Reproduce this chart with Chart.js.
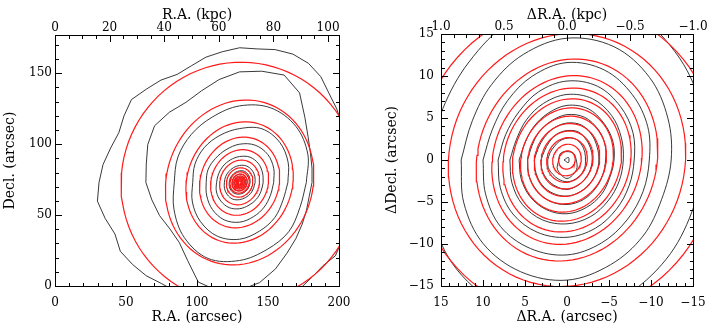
<!DOCTYPE html>
<html>
<head>
<meta charset="utf-8">
<script src="https://cdn.jsdelivr.net/npm/chart.js@4.4.0/dist/chart.umd.min.js"></script>
<style>
  body { margin: 0; background: #fff; width: 708px; height: 329px; overflow: hidden; }
  canvas { position: absolute; top: 0; }
  #left { left: 0; }
  #right { left: 354px; }
</style>
</head>
<body>
<canvas id="left" width="354" height="329"></canvas>
<canvas id="right" width="354" height="329"></canvas>
<script>
// ---- left panel: whole galaxy (arcsec) ----
const leftCenter = [130, 73];
const leftXTicks = [0, 50, 100, 150, 200];
const leftYTicks = [0, 50, 100, 150];
const leftKpcTicks = [0, 20, 40, 60, 80, 100];
const leftYMax = 177;
const leftKpcMax = 104;

// red model ellipses: semi-major axis (arcsec), axis ratio, major axis angle (deg from +x)
const leftModelSma = [85, 59, 43.5, 32.5, 23.5, 16, 10.5, 7.6, 6.0, 4.7, 3.6, 2.7, 1.9, 1.2];
const leftModelQ   = [0.98, 0.87, 0.85, 0.85, 0.85, 0.86, 0.87, 0.88, 0.88, 0.88, 0.9, 0.9, 0.9, 0.9];
const leftModelPA  = [70, 70, 70, 70, 70, 70, 70, 70, 70, 70, 70, 70, 70, 70];

// black measured isophotes: radius (arcsec) at equal angle steps from the centre
const leftIso1 = [88, 86, 84.5, 82, 83, 86, 89, 94, 97, 98, 97, 95, 95, 93, 91.5, 89, 88, 91, 93, 96, 94, 92, 94, 97,
                  99, 101, 98, 95, 97, 95, 93, 90, 89, 88, 88, 88, 88, 88, 88, 87, 86, 84, 83, 85, 83, 84, 86, 87];
const leftIso2 = [51, 52, 54, 58, 65, 76, 82, 80, 78, 74, 70, 68, 70, 72, 70, 67,
                  66, 63, 61, 59, 60, 66, 76, 78, 76, 72, 66, 60, 56, 53, 51, 50];
const leftIso3 = [47, 52, 56, 57, 54, 50, 48, 47, 46, 50, 55, 58, 55, 51, 49, 46];
const leftIso4 = [34, 37, 40, 41, 38, 36, 35, 34, 33, 36, 39, 41, 40, 37, 35, 33];
const leftIso5 = [24, 26, 28, 28.5, 27, 25, 24, 24, 23.5, 25, 27, 28.5, 28, 26, 24.5, 23.5];
const leftIso6 = [16.6, 17.5, 18.8, 19.3, 18.3, 17.2, 16.4, 16, 16.2, 17.6, 18.6, 19.2, 18.5, 17.3, 16.7, 16.3];
const leftIso7 = [10.9, 11.6, 12.3, 12.6, 12, 11.3, 10.8, 10.7, 10.7, 11.5, 12.2, 12.7, 12.1, 11.4, 11, 10.6];
const leftIso8 = [7.4, 7.8, 8.3, 8.6, 8.2, 7.7, 7.3, 7.2, 7.3, 7.8, 8.3, 8.5, 8.2, 7.8, 7.4, 7.2];
const leftIso9 = [5.2, 5.5, 5.9, 6.0, 5.8, 5.5, 5.2, 5.1, 5.2, 5.5, 5.8, 6.1, 5.9, 5.5, 5.2, 5.1];
const leftIso10 = [3.5, 3.7, 3.9, 4.0, 3.9, 3.7, 3.5, 3.4, 3.5, 3.7, 3.9, 4.0, 3.9, 3.7, 3.5, 3.4];
const leftIso11 = [2.2, 2.3, 2.5, 2.5, 2.4, 2.3, 2.2, 2.1, 2.2, 2.3, 2.5, 2.5, 2.4, 2.3, 2.2, 2.1];

// ---- right panel: central 30" (arcsec offsets) ----
const rightTicks = [15, 10, 5, 0, -5, -10, -15];
const rightKpcTicks = [1, 0.5, 0, -0.5, -1];

const rightModelSma = [1.1, 1.9, 2.7, 3.5, 4.4, 5.3, 6.3, 7.4, 8.7, 10.2, 12.2, 15.2, 18.5];
const rightModelQ   = [0.88, 0.88, 0.88, 0.87, 0.87, 0.87, 0.86, 0.86, 0.86, 0.86, 0.87, 0.92, 0.96];
const rightModelPA  = [110, 110, 110, 110, 110, 110, 110, 110, 110, 110, 110, 110, 110];

const rightIso0 = [0.35, 0.35, 0.35];
const rightIso1 = [1.0, 1.1, 1.0, 1.1, 1.1, 1.6, 2.2, 1.6];
const rightIso2 = [2.3, 2.2, 2.2, 2.4, 2.6, 2.7, 2.5, 2.3, 2.2, 2.3, 2.4, 2.5, 2.6, 2.5, 2.4, 2.4];
const rightIso3 = [3.1, 2.9, 3.0, 3.3, 3.5, 3.6, 3.3, 3.1, 3.0, 3.0, 3.1, 3.3, 3.5, 3.4, 3.3, 3.2];
const rightIso4 = [3.9, 3.7, 3.8, 4.1, 4.4, 4.5, 4.2, 3.9, 3.8, 3.8, 3.9, 4.1, 4.3, 4.3, 4.2, 4.0];
const rightIso5 = [4.7, 4.5, 4.7, 5.0, 5.4, 5.5, 5.2, 4.9, 4.6, 4.6, 4.8, 5.1, 5.3, 5.3, 5.1, 4.9];
const rightIso6 = [5.7, 5.4, 5.6, 6.0, 6.5, 6.6, 6.2, 5.9, 5.6, 5.5, 5.8, 6.1, 6.4, 6.4, 6.2, 5.9];
const rightIso7 = [6.8, 6.5, 6.8, 7.3, 7.8, 7.9, 7.5, 7.0, 6.7, 6.7, 6.9, 7.3, 7.6, 7.7, 7.5, 7.1];
const rightIso8 = [8.2, 7.9, 8.1, 8.8, 9.4, 9.5, 9.0, 8.5, 8.0, 8.0, 8.3, 8.8, 9.2, 9.3, 9.1, 8.6];
const rightIso9 = [10.0, 9.6, 10.0, 10.8, 11.6, 11.6, 11.0, 10.4, 9.8, 9.8, 10.1, 10.7, 11.3, 11.4, 11.2, 10.5];
const rightIso10 = [12.6, 12.2, 12.7, 13.6, 14.5, 14.6, 13.9, 13.0, 12.4, 12.2, 12.8, 13.5, 14.3, 14.4, 14.1, 13.3];
const rightIso11 = [16.5, 16.0, 16.5, 17.8, 19.0, 19.3, 18.2, 17.2, 16.3, 16.1, 16.7, 17.6, 18.7, 19.0, 18.5, 17.4];

const leftIsos = [leftIso1, leftIso2, leftIso3, leftIso4, leftIso5, leftIso6, leftIso7, leftIso8, leftIso9, leftIso10, leftIso11];
const rightIsos = [rightIso0, rightIso1, rightIso2, rightIso3, rightIso4, rightIso5, rightIso6, rightIso7, rightIso8, rightIso9, rightIso10, rightIso11];

const tickFont = { family: 'DejaVu Serif', size: 12 };
const titleFont = { family: 'DejaVu Serif', size: 14 };

function ellipse(cx, cy, a, q, pa) {
  const t = pa * Math.PI / 180, pts = [];
  for (let i = 0; i <= 96; i++) {
    const u = 2 * Math.PI * i / 96;
    const ex = a * Math.cos(u), ey = a * q * Math.sin(u);
    pts.push({ x: cx + ex * Math.cos(t) - ey * Math.sin(t), y: cy + ex * Math.sin(t) + ey * Math.cos(t) });
  }
  return pts;
}

function isophote(cx, cy, radii) {
  const n = radii.length;
  const pts = radii.map((r, i) => {
    const u = 2 * Math.PI * i / n;
    return { x: cx + r * Math.cos(u), y: cy + r * Math.sin(u) };
  });
  pts.push(pts[0]);
  return pts;
}

function datasets(c, sma, q, pa, isos) {
  const red = sma.map((a, i) => ({
    data: ellipse(c[0], c[1], a, q[i], pa[i]),
    showLine: true, borderColor: '#ff1a1a', borderWidth: 1.2, pointRadius: 0
  }));
  const black = isos.map(r => ({
    data: isophote(c[0], c[1], r),
    showLine: true, borderColor: '#222', borderWidth: 0.9, pointRadius: 0,
    tension: r.length > 24 ? 0 : 0.35
  }));
  return red.concat(black);
}

const fmt = v => (v < 0 ? '\u2212' : '') + Math.abs(v);
const fmt1 = v => (v < 0 ? '\u2212' : '') + Math.abs(v).toFixed(1);

function axis(pos, min, max, ticks, labels, size, tickPad, title, titlePad, reverse) {
  return {
    type: 'linear', position: pos, min: min, max: max, reverse: !!reverse,
    grid: { display: false, drawTicks: false }, border: { display: false },
    ticks: {
      display: !!labels, autoSkip: false, maxRotation: 0, font: tickFont, color: '#000',
      padding: tickPad, callback: (v, i) => labels ? labels[i] : ''
    },
    afterBuildTicks: s => { s.ticks = ticks.map(v => ({ value: v })); },
    afterFit: s => {
      if (s.isHorizontal()) s.height = size; else s.width = size;
      // labels may hang over the canvas edge; keep the plot box fixed
      s.paddingLeft = s.paddingRight = s.paddingTop = s.paddingBottom = 0;
    },
    title: title ? { display: true, text: title, font: titleFont, color: '#000', padding: titlePad } : { display: false }
  };
}

// inward major/minor tick marks and the frame, IDL style
function inTicks(axes) {
  return {
    id: 'inTicks',
    afterDraw(chart) {
      const ctx = chart.ctx, a = chart.chartArea;
      const L = Math.round(a.left), R = Math.round(a.right);
      const T = Math.round(a.top), B = Math.round(a.bottom);
      ctx.save();
      ctx.fillStyle = '#000';
      ctx.fillRect(L, T, R - L + 1, 1);
      ctx.fillRect(L, B, R - L + 1, 1);
      ctx.fillRect(L, T, 1, B - T + 1);
      ctx.fillRect(R, T, 1, B - T + 1);
      axes.forEach(([id, major, minor]) => {
        const s = chart.scales[id];
        const lo = Math.min(s.min, s.max), hi = Math.max(s.min, s.max);
        const n0 = Math.ceil(lo / minor - 1e-6), n1 = Math.floor(hi / minor + 1e-6);
        for (let n = n0; n <= n1; n++) {
          const v = n * minor;
          const len = Math.abs(v / major - Math.round(v / major)) < 1e-6 ? 7 : 4;
          const p = Math.round(s.getPixelForValue(v));
          if (s.isHorizontal()) {
            if (s.position === 'top') ctx.fillRect(p, T, 1, len);
            else ctx.fillRect(p, B - len + 1, 1, len);
          } else {
            if (s.position === 'left') ctx.fillRect(L, p, len, 1);
            else ctx.fillRect(R - len + 1, p, len, 1);
          }
        }
      });
      ctx.restore();
    }
  };
}

const common = {
  responsive: false, animation: false, events: [],
  layout: { padding: 0 },
  plugins: { legend: { display: false }, tooltip: { enabled: false } }
};

new Chart(document.getElementById('left'), {
  type: 'scatter',
  data: { datasets: datasets(leftCenter, leftModelSma, leftModelQ, leftModelPA, leftIsos) },
  options: Object.assign({}, common, {
    scales: {
      x: axis('bottom', 0, 200, leftXTicks, leftXTicks.map(String), 43, 10, 'R.A. (arcsec)', { top: 0, bottom: 3 }),
      x2: axis('top', 0, leftKpcMax, leftKpcTicks, leftKpcTicks.map(String), 35, 0, 'R.A. (kpc)', { top: 7, bottom: 0 }),
      y: axis('left', 0, leftYMax, leftYTicks, leftYTicks.map(String), 55, 3, 'Decl. (arcsec)', { top: 2, bottom: 0 }),
      y2: axis('right', 0, leftYMax, leftYTicks, null, 15, 0, null)
    }
  }),
  plugins: [inTicks([['x', 50, 10], ['x2', 20, 5], ['y', 50, 10], ['y2', 50, 10]])]
});

new Chart(document.getElementById('right'), {
  type: 'scatter',
  data: { datasets: datasets([0, 0], rightModelSma, rightModelQ, rightModelPA, rightIsos) },
  options: Object.assign({}, common, {
    scales: {
      x: axis('bottom', -15, 15, rightTicks, rightTicks.map(fmt), 43, 10, '\u0394R.A. (arcsec)', { top: 0, bottom: 3 }, true),
      x2: axis('top', -1, 1, rightKpcTicks, rightKpcTicks.map(fmt1), 34, 0, '\u0394R.A. (kpc)', { top: 7, bottom: 0 }, true),
      y: axis('left', -15, 15, rightTicks, rightTicks.map(fmt), 87, 7, '\u0394Decl. (arcsec)', { top: 30, bottom: 0 }),
      y2: axis('right', -15, 15, rightTicks, null, 15, 0, null)
    }
  }),
  plugins: [inTicks([['x', 5, 1], ['x2', 0.5, 0.1], ['y', 5, 1], ['y2', 5, 1]])]
});
</script>
</body>
</html>
